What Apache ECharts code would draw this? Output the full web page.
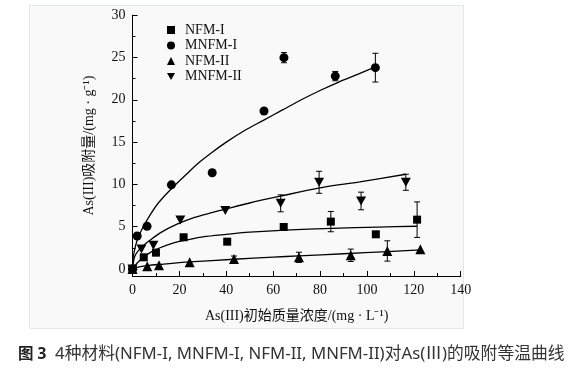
<!DOCTYPE html>
<html><head><meta charset="utf-8">
<script src="https://cdn.jsdelivr.net/npm/echarts@6/dist/echarts.min.js"></script>
<style>html,body{margin:0;padding:0;background:#fff}#c{width:580px;height:368px}</style>
</head><body><div id="c"></div>
<script>
const seriesNames = ['NFM-I', 'MNFM-I', 'NFM-II', 'MNFM-II'];
const xTicks = [0, 20, 40, 60, 80, 100, 120, 140];
const yTicks = [0, 5, 10, 15, 20, 25, 30];
const yMinorTicks = [2.5, 7.5, 12.5, 17.5, 22.5, 27.5];

const nfm1 = [[0,0],[4.8,1.38],[10.0,1.93],[21.8,3.75],[40.4,3.23],[64.5,4.96],[84.6,5.6],[103.8,4.1],[121.4,5.83]];
const mnfm1 = [[0,0],[2.0,3.9],[6.2,5.05],[16.6,9.95],[34.0,11.38],[56.1,18.68],[64.6,24.98],[86.5,22.8],[103.6,23.8]];
const nfm2 = [[0,0],[6.3,0.32],[11.3,0.44],[24.4,0.79],[43.3,1.18],[71.0,1.38],[93.1,1.62],[108.7,2.13],[122.8,2.33]];
const mnfm2 = [[0,0],[3.8,2.36],[8.9,2.8],[20.4,5.8],[39.6,6.9],[63.2,7.76],[79.6,10.25],[97.5,8.04],[116.6,10.25]];

const fitNfm1 = [[0,0],[2,0.7],[4.6,1.35],[7,1.85],[10,2.3],[15,2.85],[20,3.25],[30,3.8],[40,4.1],[50,4.35],[65,4.6],[85,4.8],[105,4.95],[121.4,5.05]];
const fitMnfm1 = [[0,0],[0.3,1.3],[1,2.4],[2,3.4],[3,4.1],[5,5.2],[8,6.6],[11,7.8],[17,9.6],[23,11.2],[28,12.5],[34,13.8],[40,15.0],[48,16.4],[56,17.6],[64,18.8],[72,20.0],[80,21.1],[88,22.1],[96,23.0],[103.6,23.9]];
const fitNfm2 = [[0,0],[2,0.2],[6.3,0.4],[12,0.55],[24.4,0.83],[43.3,1.15],[60,1.4],[71,1.55],[90,1.8],[108.7,2.05],[122.8,2.25]];
const fitMnfm2 = [[0,0],[0.5,1.0],[1,1.5],[2,2.0],[4,2.6],[7,3.3],[12,4.3],[19,5.3],[26.5,6.1],[33,6.6],[39.3,7.05],[50,7.8],[63,8.6],[80,9.6],[97,10.3],[116.6,11.2]];

// [x, y, error]
const errNfm1 = [[84.6,5.6,1.2],[121.4,5.83,2.1]];
const errMnfm1 = [[34.0,11.38,0.3],[64.6,24.98,0.6],[86.5,22.8,0.55],[103.6,23.8,1.7]];
const errNfm2 = [[43.3,1.18,0.35],[71.0,1.38,0.6],[93.1,1.62,0.73],[108.7,2.13,1.2]];
const errMnfm2 = [[63.2,7.76,1.0],[79.6,10.25,1.3],[97.5,8.04,1.04],[116.6,10.25,0.95]];

const serif = '"Liberation Serif","Noto Sans CJK SC",serif';
const downTri = 'path://M0,0 L10,0 L5,8.66 Z';

function errSeries(data){
  return {
    type: 'custom', data: data, encode: {x: 0, y: 1}, silent: true, z: 3,
    renderItem: function(params, api){
      const x = api.value(0), y = api.value(1), e = api.value(2);
      const t = api.coord([x, y + e]), b = api.coord([x, y - e]);
      const hw = 3, st = {stroke: '#000', lineWidth: 1};
      return {type: 'group', children: [
        {type: 'line', shape: {x1: t[0], y1: t[1], x2: b[0], y2: b[1]}, style: st},
        {type: 'line', shape: {x1: t[0]-hw, y1: t[1], x2: t[0]+hw, y2: t[1]}, style: st},
        {type: 'line', shape: {x1: b[0]-hw, y1: b[1], x2: b[0]+hw, y2: b[1]}, style: st}
      ]};
    }
  };
}
function fitSeries(name, data){
  return {name: name, type: 'line', data: data, smooth: 0.3, showSymbol: false, silent: true,
    lineStyle: {color: '#000', width: 1.3}, z: 2};
}
function scatter(name, data, symbol, size){
  return {name: name, type: 'scatter', data: data, symbol: symbol, symbolSize: size,
    itemStyle: {color: '#000', opacity: 1}, z: 4};
}

const chart = echarts.init(document.getElementById('c'), null, {renderer: 'canvas'});
chart.setOption({
  animation: false,
  backgroundColor: '#fff',
  graphic: [
    {type: 'rect', left: 29, top: 5, z: -10, shape: {width: 434, height: 323},
     style: {fill: '#f9f9f9', stroke: '#e2e8ea', lineWidth: 1}},
    {type: 'text', left: 18, top: 346, z: 10,
     style: {text: '{b|图 3}  4种材料(NFM-I, MNFM-I, NFM-II, MNFM-II)对As(Ⅲ)的吸附等温曲线',
       fontFamily: '"Noto Sans","Noto Sans CJK SC",sans-serif', fontSize: 16.8, fill: '#333',
       rich: {b: {fontWeight: 'bold', fontSize: 15.5, fontFamily: '"Noto Sans","Noto Sans CJK SC",sans-serif', fill: '#222'}}}}
  ],
  grid: {left: 132.5, right: 119.3, top: 15.2, bottom: 92, containLabel: false},
  legend: {
    orient: 'vertical', left: 162, top: 18, itemWidth: 8, itemHeight: 8, itemGap: 1.5,
    data: seriesNames,
    textStyle: {fontFamily: serif, fontSize: 14, color: '#111', lineHeight: 14, padding: [0, 0, 0, 5]}
  },
  xAxis: {
    type: 'value', min: 0, max: 140, interval: 20,
    name: 'As(III)初始质量浓度/(mg · L⁻¹)', nameLocation: 'middle', nameGap: 33,
    nameTextStyle: {fontFamily: serif, fontSize: 14, color: '#111'},
    axisLine: {show: true, onZero: false, lineStyle: {color: '#000', width: 1}},
    axisTick: {show: true, inside: true, length: 5, lineStyle: {color: '#000'}},
    minorTick: {show: true, splitNumber: 2, length: 3, lineStyle: {color: '#000'}},
    splitLine: {show: false},
    axisLabel: {fontFamily: serif, fontSize: 14, color: '#111', margin: 7,
      customValues: xTicks}
  },
  yAxis: [{
    type: 'value', min: -0.83, max: 30,
    name: 'As(III)吸附量/(mg · g⁻¹)', nameLocation: 'middle', nameGap: 36,
    nameTextStyle: {fontFamily: serif, fontSize: 14, color: '#111'},
    axisLine: {show: true, onZero: false, lineStyle: {color: '#000', width: 1}},
    axisTick: {show: true, inside: true, length: 5, lineStyle: {color: '#000'}, customValues: yTicks},
    splitLine: {show: false},
    axisLabel: {fontFamily: serif, fontSize: 14, color: '#111', margin: 7, customValues: yTicks}
  }, {
    type: 'value', min: -0.83, max: 30, position: 'left',
    axisLine: {show: false},
    axisTick: {show: true, inside: true, length: 3, lineStyle: {color: '#000'}, customValues: yMinorTicks},
    axisLabel: {show: false, customValues: []},
    splitLine: {show: false}
  }],
  series: [
    fitSeries('fit-nfm1', fitNfm1),
    fitSeries('fit-mnfm1', fitMnfm1),
    fitSeries('fit-nfm2', fitNfm2),
    fitSeries('fit-mnfm2', fitMnfm2),
    errSeries(errNfm1), errSeries(errMnfm1), errSeries(errNfm2), errSeries(errMnfm2),
    scatter('NFM-I', nfm1, 'rect', 8),
    scatter('MNFM-I', mnfm1, 'circle', 9),
    scatter('NFM-II', nfm2, 'triangle', 10),
    scatter('MNFM-II', mnfm2, downTri, [10, 9])
  ]
});
</script></body></html>
